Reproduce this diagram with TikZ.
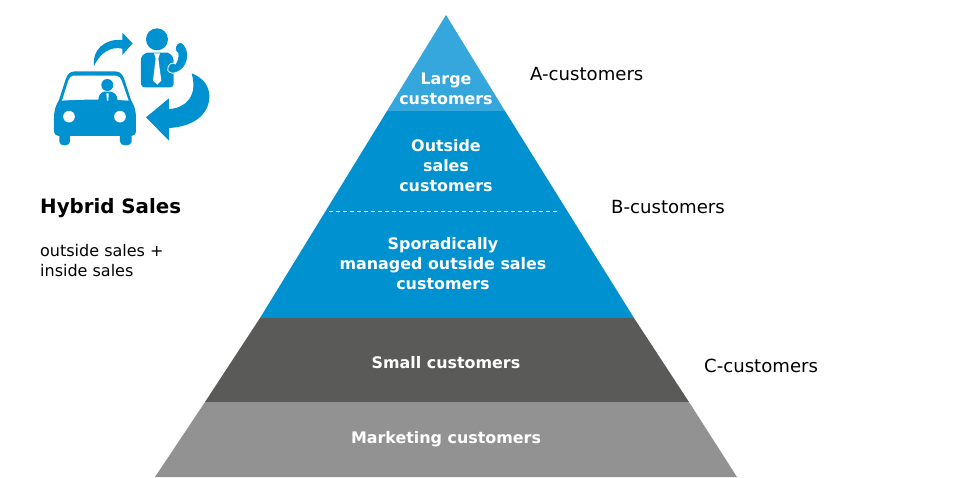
\documentclass[tikz,border=0pt]{standalone}
\usepackage{fontspec}
\setmainfont{DejaVu Sans}
\definecolor{lightblue}{HTML}{36A7DC}
\definecolor{midblue}{HTML}{0091D0}
\definecolor{darkgrey}{HTML}{5A5A59}
\definecolor{midgrey}{HTML}{929292}
\tikzset{
  bandlabel/.style={text=white,font=\bfseries\fontsize{15.9}{20}\selectfont,align=center},
  sidelabel/.style={text=black,font=\fontsize{18.1}{20}\selectfont,anchor=west,inner sep=0pt},
  icon/.style={fill=midblue,draw=none},
  iconhole/.style={fill=white,draw=none}
}
\begin{document}
\begin{tikzpicture}[x=1pt,y=-1pt]
  \useasboundingbox (0,0) rectangle (969,477);
  % pyramid bands
  \fill[lightblue] (446,15) -- (505,111) -- (387,111) -- cycle;
  \fill[midblue] (387,111) -- (505,111) -- (634,318) -- (260,318) -- cycle;
  \fill[darkgrey] (260,318) -- (634,318) -- (689,402) -- (205,402) -- cycle;
  \fill[midgrey] (205,402) -- (689,402) -- (737,477) -- (155,477) -- cycle;
  \coordinate (dashleft) at (329,211);
  \coordinate (dashright) at (558,211);
  \draw[white,dashed,line width=0.7pt,dash pattern=on 4pt off 3pt] (dashleft) -- (dashright);
  % labels inside
  \node[bandlabel] (large) at (446,89) {Large\\customers};
  \node[bandlabel] (outside) at (446,165.5) {Outside\\sales\\customers};
  \node[bandlabel] (sporadic) at (443,263.5) {Sporadically\\managed outside sales\\customers};
  \node[bandlabel] (small) at (446,362.5) {Small customers};
  \node[bandlabel] (marketing) at (446,439) {Marketing customers};
  % labels outside
  \node[sidelabel] (acust) at (530,74) {A-customers};
  \node[sidelabel] (bcust) at (611,207.5) {B-customers};
  \node[sidelabel] (ccust) at (704,365.5) {C-customers};
  \node[sidelabel,font=\bfseries\fontsize{19.8}{20}\selectfont] (hybrid) at (40,208) {Hybrid Sales};
  \node[sidelabel,font=\fontsize{16}{20}\selectfont,align=left] (hybridsub) at (40,260.5) {outside sales +\\inside sales};
  % icon, measured in thirds of a pixel
  \begin{scope}[shift={(30pt,-10pt)},x=0.3333pt,y=-0.3333pt]
    % car
    \fill[icon] (135,184) -- (255,184) .. controls (272,184) and (278,195) .. (283,208)
      -- (303,270) .. controls (312,285) and (318,300) .. (318,325) -- (318,362)
      .. controls (318,372) and (312,377) .. (305,378) -- (305,395)
      .. controls (305,410) and (270,410) .. (270,395) -- (270,378) -- (120,378) -- (120,395)
      .. controls (120,410) and (88,410) .. (88,395) -- (88,378)
      .. controls (78,377) and (72,372) .. (72,362) -- (72,325)
      .. controls (72,300) and (78,285) .. (87,270) -- (107,208)
      .. controls (112,195) and (118,184) .. (135,184) -- cycle;
    \fill[iconhole] (130,197) -- (258,197) .. controls (268,197) and (272,205) .. (275,212)
      -- (296,272) .. controls (250,268) and (140,268) .. (96,272) -- (115,212)
      .. controls (118,205) and (122,197) .. (130,197) -- cycle;
    \fill[icon] (232,225) circle (18);
    \fill[icon] (205,272) .. controls (205,255) and (212,248) .. (222,245) -- (242,245)
      .. controls (255,248) and (262,255) .. (263,272) -- cycle;
    \fill[iconhole] (229,250) -- (236,250) -- (235,272) -- (231,272) -- cycle;
    \fill[iconhole] (117,320) circle (17.5);
    \fill[iconhole] (270,320) circle (17.5);
    % arrow to the person
    \fill[icon] (192,168) .. controls (185,120) and (225,85) .. (277,90) -- (277,68) -- (308,100)
      -- (277,135) -- (277,116) .. controls (240,108) and (210,130) .. (192,168) -- cycle;
    % person with phone
    \fill[icon] (381,88) circle (33);
    \fill[icon] (352,128) -- (412,128) .. controls (425,132) and (430,140) .. (431,155)
      -- (431,222) .. controls (431,228) and (426,232) .. (420,232) -- (345,232)
      .. controls (338,232) and (333,228) .. (333,222) -- (333,150)
      .. controls (333,138) and (340,132) .. (352,128) -- cycle;
    \fill[iconhole] (372,130) -- (390,130) -- (385,146) -- (394,212) -- (382,224) -- (369,212) -- (377,146) -- cycle;
    \fill[iconhole] (434,150) -- (445,150) -- (445,195) -- (431,195) -- cycle;
    \fill[icon,draw=white,line width=0.8pt] (436,112) .. controls (440,95) and (456,93) .. (463,105)
      .. controls (482,130) and (474,176) .. (438,188) .. controls (425,193) and (408,186) .. (414,172)
      .. controls (418,159) and (430,156) .. (436,162) .. controls (442,152) and (446,140) .. (444,130)
      .. controls (438,128) and (435,120) .. (436,112) -- cycle;
    % arrow back to the car
    \fill[icon] (485,190) .. controls (525,205) and (540,235) .. (538,265)
      .. controls (534,315) and (490,350) .. (417,354) -- (417,392) -- (348,322) -- (417,265) -- (417,297)
      .. controls (465,295) and (505,260) .. (485,190) -- cycle;
  \end{scope}
\end{tikzpicture}
\end{document}
